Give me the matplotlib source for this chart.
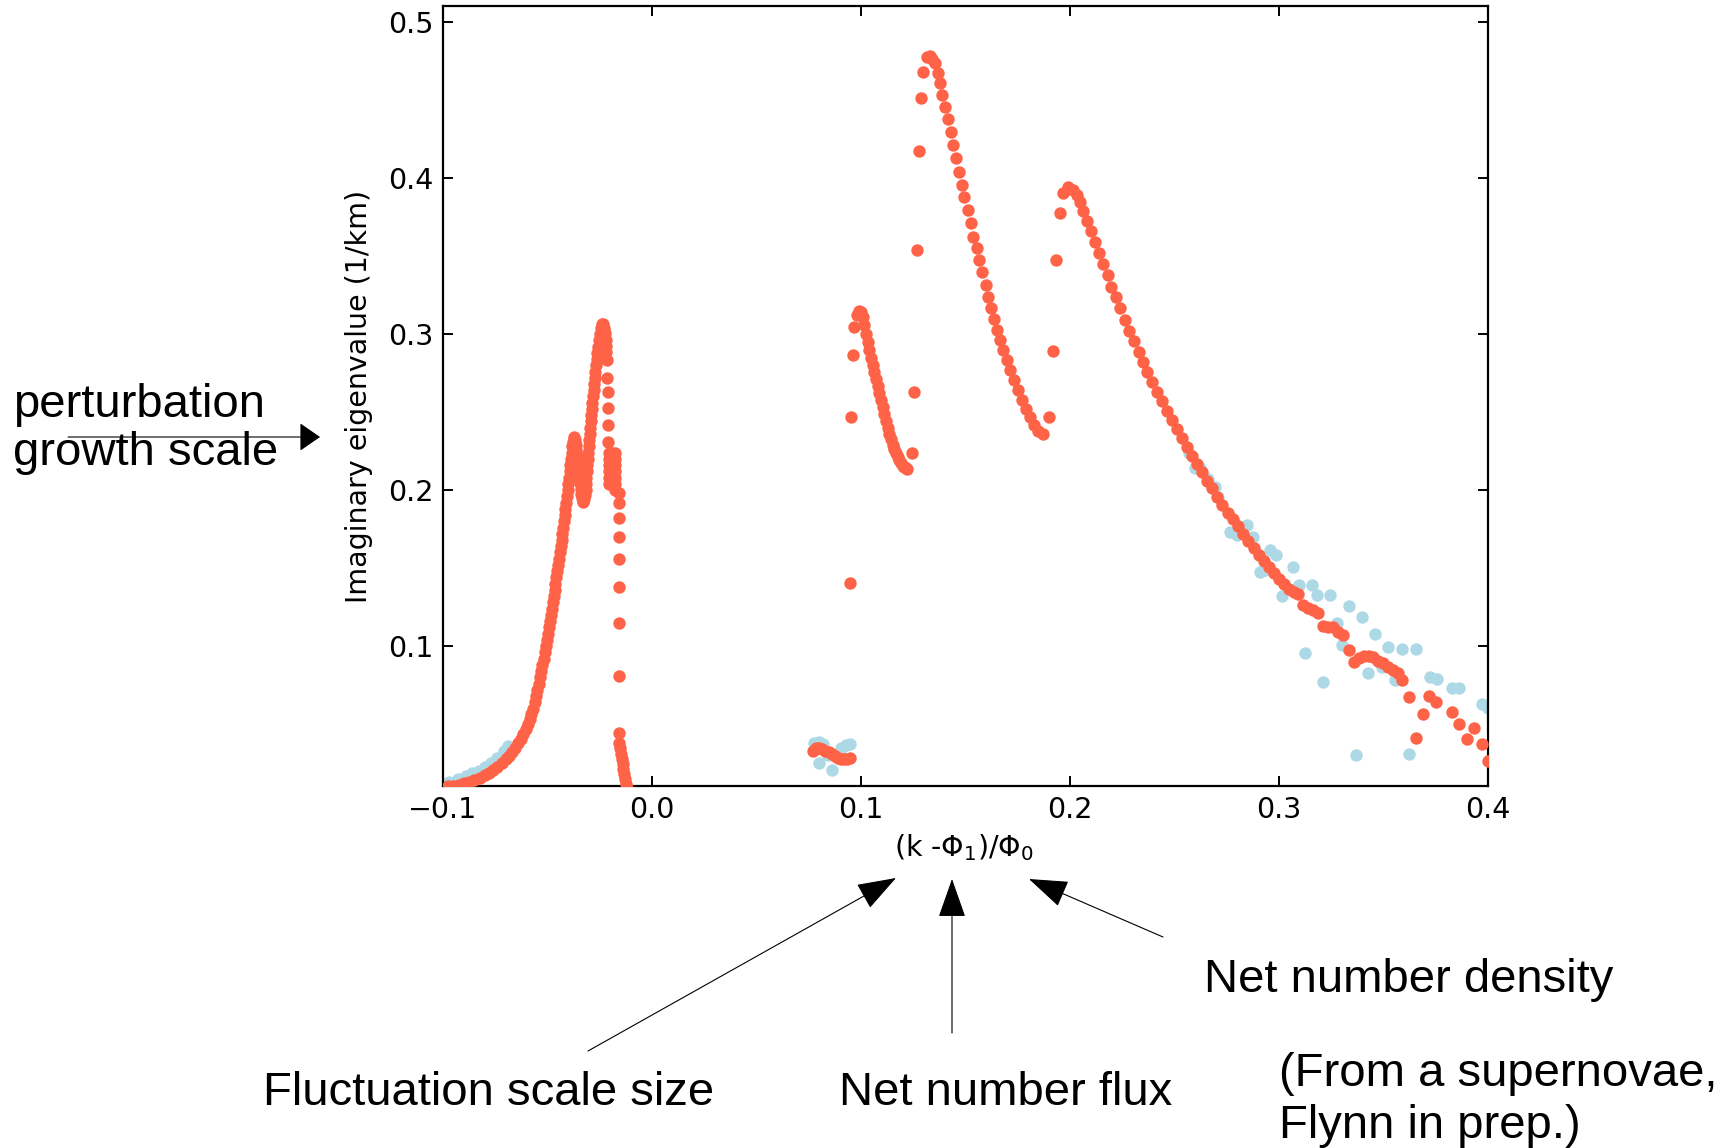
import numpy as np
import matplotlib
matplotlib.use("Agg")
from matplotlib import pyplot as plt
from matplotlib.patches import FancyArrowPatch

# ---- data ----
# left structure: rise, first peak, dip, second peak
rise_x = [-0.0975, -0.0950, -0.0925, -0.0900, -0.0875, -0.0850, -0.0825, -0.0800, -0.0780, -0.0760,
          -0.0740, -0.0720, -0.0700, -0.0685, -0.0670, -0.0655, -0.0640, -0.0627, -0.0615, -0.0604,
          -0.0594, -0.0585, -0.0577, -0.0569,
          -0.0561, -0.0554, -0.0548, -0.0541, -0.0535, -0.0529, -0.0524, -0.0518, -0.0513, -0.0508,
          -0.0503, -0.0498, -0.0494, -0.0489, -0.0484, -0.0480, -0.0475, -0.0471, -0.0466, -0.0462,
          -0.0458, -0.0454, -0.0450, -0.0445, -0.0441, -0.0437, -0.0433, -0.0430, -0.0426, -0.0422,
          -0.0418, -0.0415, -0.0411, -0.0408, -0.0404, -0.0401, -0.0397, -0.0394, -0.0390, -0.0387,
          -0.0384, -0.0381, -0.0378, -0.0375]
rise_y = [0.0100, 0.0105, 0.0112, 0.0120, 0.0130, 0.0142, 0.0156, 0.0172, 0.0188, 0.0206,
          0.0226, 0.0250, 0.0276, 0.0298, 0.0322, 0.0348, 0.0376, 0.0404, 0.0434, 0.0466,
          0.0498, 0.0530, 0.0562, 0.0596,
          0.064, 0.068, 0.072, 0.076, 0.080, 0.084, 0.088, 0.092, 0.096, 0.100,
          0.104, 0.108, 0.112, 0.116, 0.120, 0.124, 0.128, 0.132, 0.136, 0.140,
          0.144, 0.148, 0.152, 0.156, 0.160, 0.164, 0.168, 0.172, 0.176, 0.180,
          0.184, 0.188, 0.192, 0.196, 0.200, 0.204, 0.208, 0.212, 0.216, 0.220,
          0.224, 0.228, 0.231, 0.233]

dip_x = [-0.0372, -0.0369, -0.0366, -0.0363, -0.0360, -0.0357, -0.0354, -0.0351, -0.0348, -0.0345,
         -0.0342, -0.0339, -0.0336, -0.0332, -0.0328, -0.0324, -0.0321,
         -0.0318, -0.0316, -0.0314, -0.0313, -0.0310, -0.0308, -0.0305, -0.0303, -0.0300, -0.0298,
         -0.0295, -0.0292, -0.0290, -0.0287, -0.0285, -0.0282, -0.0279, -0.0276, -0.0273, -0.0271,
         -0.0268, -0.0265, -0.0262, -0.0259, -0.0255, -0.0251, -0.0246, -0.0240, -0.0234, -0.0229,
         -0.0225, -0.0222, -0.0220, -0.0218]
dip_y = [0.2340, 0.2320, 0.2290, 0.2255, 0.2220, 0.2185, 0.2150, 0.2115, 0.2080, 0.2045,
         0.2010, 0.1975, 0.1950, 0.1930, 0.1925, 0.1940, 0.1970,
         0.200, 0.204, 0.208, 0.212, 0.216, 0.220, 0.224, 0.228, 0.232, 0.236,
         0.240, 0.244, 0.248, 0.252, 0.256, 0.260, 0.264, 0.268, 0.272, 0.276,
         0.280, 0.284, 0.288, 0.292, 0.296, 0.300, 0.304, 0.3065, 0.3062, 0.3040,
         0.3005, 0.2965, 0.2925, 0.2885]

# scattered points falling down to zero near x = -0.02
fall_x = [-0.0215, -0.0213, -0.0212, -0.0211, -0.0210, -0.0210,
          -0.0205, -0.0205, -0.0205, -0.0205, -0.0205, -0.0205,
          -0.0190, -0.0190, -0.0190, -0.0190,
          -0.0175, -0.0175, -0.0175, -0.0175, -0.0175, -0.0175, -0.0175,
          -0.0160, -0.0160, -0.0160, -0.0160, -0.0160, -0.0160, -0.0160, -0.0160, -0.0160,
          -0.0156, -0.0153, -0.0149, -0.0145, -0.0141, -0.0137, -0.0133, -0.0129, -0.0125, -0.0122]
fall_y = [0.2833, 0.2716, 0.2630, 0.2524, 0.2417, 0.2310,
          0.224, 0.220, 0.216, 0.212, 0.208, 0.204,
          0.224, 0.219, 0.214, 0.209,
          0.224, 0.220, 0.216, 0.212, 0.208, 0.204, 0.200,
          0.198, 0.192, 0.182, 0.170, 0.156, 0.138, 0.115, 0.081, 0.044,
          0.038, 0.0345, 0.031, 0.0278, 0.0246, 0.0214, 0.0182, 0.015, 0.0118, 0.009]

# small bump near x = 0.085
bump_x = [0.0770, 0.0785, 0.0800, 0.0815, 0.0830, 0.0845, 0.0860, 0.0875, 0.0890, 0.0905,
          0.0920, 0.0935, 0.0948]
bump_y = [0.0330, 0.0345, 0.0345, 0.0340, 0.0330, 0.0318, 0.0305, 0.0295, 0.0285, 0.0278,
          0.0275, 0.0278, 0.0285]

# branch around x = 0.1
mid_x = [0.0947, 0.0952, 0.0962, 0.0967,
         0.0980, 0.0990, 0.1000, 0.1008, 0.1016, 0.1024, 0.1032, 0.1040, 0.1048, 0.1056,
         0.1064, 0.1072, 0.1080, 0.1088, 0.1096, 0.1104, 0.1112, 0.1120, 0.1128, 0.1136,
         0.1144, 0.1152, 0.1160, 0.1168, 0.1176, 0.1184, 0.1192, 0.1200, 0.1208, 0.1216, 0.1222,
         0.1244, 0.1255]
mid_y = [0.1404, 0.2468, 0.2865, 0.3045,
         0.312, 0.3145, 0.314, 0.311, 0.306, 0.300, 0.295, 0.2895, 0.2845, 0.280,
         0.2755, 0.271, 0.2665, 0.262, 0.2575, 0.253, 0.2485, 0.244, 0.2400, 0.2360,
         0.2325, 0.2292, 0.2262, 0.2235, 0.2210, 0.2190, 0.2172, 0.2157, 0.2147, 0.2140, 0.2138,
         0.2237, 0.2628]

# highest peak around x = 0.13
peak_x = [0.1268, 0.1278, 0.1288, 0.1297, 0.1314, 0.1328, 0.1340,
          0.13541, 0.13700, 0.13780, 0.13891, 0.14019, 0.14178, 0.14290, 0.14418, 0.14545, 0.14689,
          0.14816, 0.14944, 0.15104, 0.15247, 0.15375, 0.15534, 0.15662, 0.15805, 0.15965, 0.16092,
          0.16220, 0.16364, 0.16523, 0.16667, 0.16810, 0.16970, 0.17129, 0.17321, 0.17496, 0.17688,
          0.17895, 0.18086, 0.18278, 0.18485, 0.18724,
          0.1901, 0.1917, 0.1933, 0.1952]
peak_y = [0.3538, 0.4175, 0.4513, 0.4681, 0.4778, 0.4780, 0.4765,
          0.47351, 0.46709, 0.46068, 0.45321, 0.44573, 0.43761, 0.42970, 0.42115, 0.41261, 0.40406,
          0.39551, 0.38803, 0.37949, 0.37094, 0.36239, 0.35491, 0.34744, 0.33953, 0.33141, 0.32393,
          0.31688, 0.30940, 0.30256, 0.29615, 0.28974, 0.28333, 0.27692, 0.27051, 0.26410, 0.25769,
          0.25171, 0.24658, 0.24167, 0.23782, 0.23590,
          0.2466, 0.2893, 0.3474, 0.3774]

# long tail from x = 0.2 to the right edge
tail_x = [0.1968, 0.1992, 0.2016,
          0.20351, 0.20478, 0.20606, 0.20829, 0.21005, 0.21212, 0.21404, 0.21595, 0.21802, 0.21978,
          0.22201, 0.22392, 0.22632, 0.22839, 0.23062, 0.23286, 0.23477, 0.23700, 0.23939, 0.24178,
          0.24402, 0.24625, 0.24864, 0.25104, 0.25343, 0.25582, 0.25821, 0.26061, 0.26300, 0.26539,
          0.26778, 0.27018, 0.27289, 0.27576, 0.27815,
          0.2806, 0.2830, 0.2854, 0.2878, 0.2902, 0.2926, 0.2950, 0.2974, 0.2998, 0.3022,
          0.3046, 0.3070, 0.3092,
          0.31165, 0.31404, 0.31643, 0.31882, 0.32121, 0.32360, 0.32600, 0.32839, 0.33078, 0.33349,
          0.33589, 0.33843, 0.34067, 0.34290, 0.34513, 0.34753, 0.34992, 0.35231, 0.35470, 0.35678,
          0.35901, 0.36220, 0.36539, 0.36906, 0.37193, 0.37497, 0.38262, 0.38628, 0.38979, 0.39330,
          0.39697, 0.40016]
tail_y = [0.3902, 0.3940, 0.3923,
          0.38910, 0.38483, 0.37906, 0.37265, 0.36624, 0.35919, 0.35171, 0.34466, 0.33782, 0.33034,
          0.32350, 0.31645, 0.30897, 0.30214, 0.29551, 0.28868, 0.28226, 0.27585, 0.26944, 0.26303,
          0.25726, 0.25085, 0.24487, 0.23889, 0.23312, 0.22778, 0.22179, 0.21667, 0.21132, 0.20598,
          0.20107, 0.19573, 0.19038, 0.18547, 0.18120,
          0.1768, 0.1720, 0.1672, 0.1626, 0.1584, 0.1543, 0.1506, 0.1469, 0.1431, 0.1397,
          0.1367, 0.1345, 0.1333,
          0.12628, 0.12415, 0.12308, 0.12137, 0.11282, 0.11197, 0.11239, 0.10919, 0.10705, 0.09744,
          0.08996, 0.09209, 0.09359, 0.09380, 0.09273, 0.09060, 0.08889, 0.08675, 0.08462, 0.08291,
          0.07821, 0.06752, 0.04081, 0.05641, 0.06795, 0.06432, 0.05791, 0.04979, 0.04017, 0.04722,
          0.03718, 0.02650]

# light blue series (mostly hidden under the orange one)
blue_x = [-0.0995, -0.0970, -0.0930, -0.0890, -0.0860, -0.0830, -0.0800, -0.0770, -0.0740, -0.0710, -0.0690,
          0.0775, 0.0800, 0.0820, 0.0905, 0.0930, 0.0945, 0.0860, 0.0800, 0.0900, 0.0840,
          0.2570, 0.2620, 0.2660,
          0.25981, 0.26938, 0.27097, 0.27656, 0.27974, 0.28453, 0.28772, 0.29091, 0.29330, 0.29569,
          0.29856, 0.30128, 0.30685, 0.30973, 0.31244, 0.31563, 0.31802, 0.32089, 0.32440, 0.32759,
          0.32998, 0.33365, 0.33684, 0.33955, 0.34274, 0.34593, 0.34944, 0.35231, 0.35550, 0.35901,
          0.36236, 0.36539, 0.37225, 0.37576, 0.38262, 0.38628, 0.39697, 0.40016]
blue_y = [0.0115, 0.0130, 0.0145, 0.0165, 0.0185, 0.0200, 0.0225, 0.0250, 0.0285, 0.0325, 0.0360,
          0.0380, 0.0385, 0.0370, 0.0345, 0.0365, 0.0370, 0.0205, 0.0250, 0.0310, 0.0300,
          0.2240, 0.2140, 0.2070,
          0.21389, 0.20214, 0.19573, 0.17329, 0.17115, 0.17756, 0.17009, 0.14765, 0.14872, 0.16154,
          0.15833, 0.13205, 0.15085, 0.13910, 0.09530, 0.13910, 0.13269, 0.07671, 0.13269, 0.11453,
          0.10064, 0.12564, 0.03013, 0.11880, 0.08291, 0.10748, 0.08675, 0.09915, 0.07821, 0.09786,
          0.03077, 0.09786, 0.08034, 0.07863, 0.07286, 0.07286, 0.06282, 0.06004]

orange_x = rise_x + dip_x + fall_x + bump_x + mid_x + peak_x + tail_x
orange_y = rise_y + dip_y + fall_y + bump_y + mid_y + peak_y + tail_y

W, H = 1732, 1148
fig = plt.figure(figsize=(W / 100, H / 100), dpi=100)
ax = fig.add_axes([443 / W, 1 - 786 / H, (1488 - 443) / W, (786 - 6) / H])

ax.scatter(blue_x, blue_y, s=80, color="lightblue", linewidths=0, zorder=2)
ax.scatter(orange_x, orange_y, s=80, color="tomato", linewidths=0, zorder=3)

ax.set_xlim(-0.1, 0.4)
ax.set_ylim(0.0103, 0.5103)
ax.set_xticks([-0.1, 0.0, 0.1, 0.2, 0.3, 0.4])
ax.set_yticks([0.1, 0.2, 0.3, 0.4, 0.5])
ax.tick_params(direction="in", top=True, right=True, length=7, width=1.4,
               labelsize=20.5, pad=7)
for sp in ax.spines.values():
    sp.set_linewidth(1.6)

# axis labels placed by hand
fig.text(359 / W, 1 - 396 / H, "Imaginary eigenvalue (1/km)", rotation=90,
         ha="center", va="center", fontsize=20.5)
fig.text(964 / W, 1 - 848 / H, r"(k -$\Phi_1$)/$\Phi_0$", ha="center", va="center",
         fontsize=20.5)

# slide annotations
ann = dict(fontsize=34, family=["Liberation Sans", "DejaVu Sans"], va="baseline", ha="left")
fig.text(13 / W, 1 - 417 / H, "perturbation", **ann)
fig.text(13 / W, 1 - 465 / H, "growth scale", **ann)
fig.text(263 / W, 1 - 1105 / H, "Fluctuation scale size", **ann)
fig.text(839 / W, 1 - 1105 / H, "Net number flux", **ann)
fig.text(1204 / W, 1 - 992 / H, "Net number density", **ann)
fig.text(1279 / W, 1 - 1086 / H, "(From a supernovae,", **ann)
fig.text(1279 / W, 1 - 1138 / H, "Flynn in prep.)", **ann)


def arrow(p0, p1, hl, hw):
    # p0 tail, p1 tip, in image pixels
    a = FancyArrowPatch((p0[0] / W, 1 - p0[1] / H), (p1[0] / W, 1 - p1[1] / H),
                        transform=fig.transFigure, arrowstyle="-|>,head_length=%g,head_width=%g" % (hl, hw),
                        mutation_scale=1, shrinkA=0, shrinkB=0, color="black", lw=0.8)
    fig.add_artist(a)


arrow((68, 437), (320, 437), 13, 9)
arrow((588, 1051), (896, 878), 25, 8.8)
arrow((952, 1033), (952, 879), 25, 8.8)
arrow((1163, 937), (1029, 879), 25, 8.8)

fig.savefig("out.png", dpi=100)
